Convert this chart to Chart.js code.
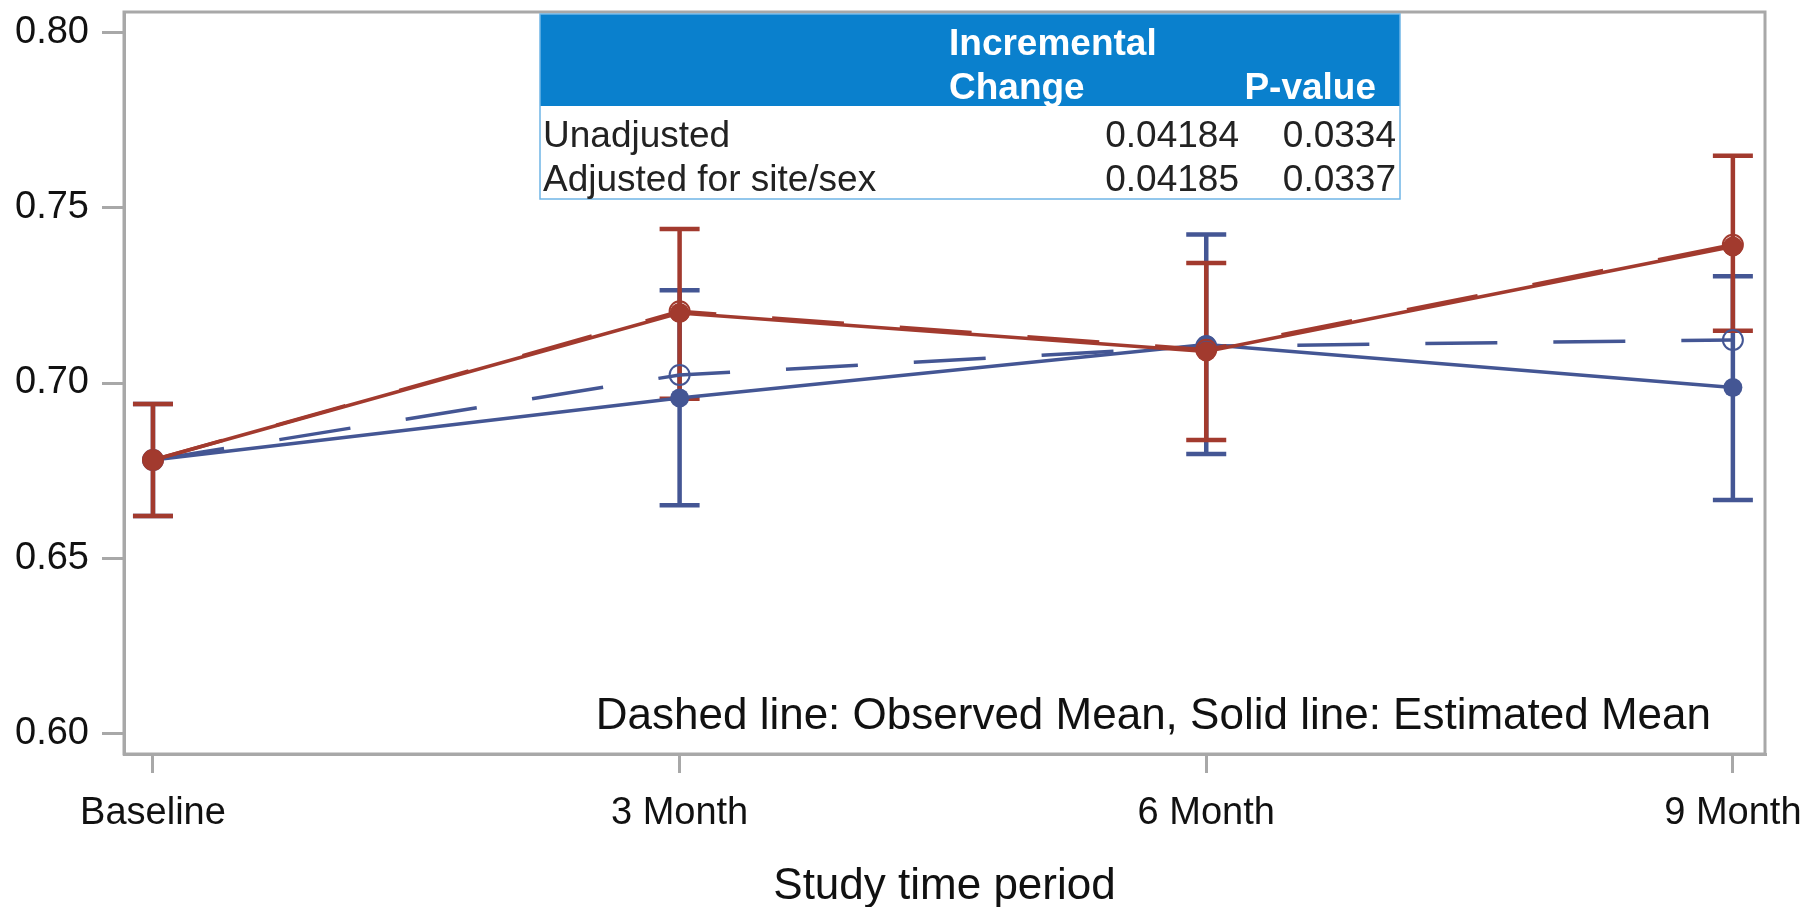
<!DOCTYPE html>
<html>
<head>
<meta charset="utf-8">
<script src="https://cdn.jsdelivr.net/npm/chart.js@4/dist/chart.umd.min.js"></script>
<style>
html,body{margin:0;padding:0;background:#fff;}
canvas{display:block;}
</style>
</head>
<body>
<canvas id="c" width="1812" height="907"></canvas>
<script>
const categories = ['Baseline', '3 Month', '6 Month', '9 Month'];
const yTicks = [0.60, 0.65, 0.70, 0.75, 0.80];

const blueEstimated = [0.678, 0.6957, 0.7110, 0.6987];
const blueObserved  = [0.678, 0.7023, 0.7105, 0.7123];
const blueLower     = [0.662, 0.6651, 0.6797, 0.6666];
const blueUpper     = [0.694, 0.7265, 0.7424, 0.7305];

const redEstimated  = [0.678, 0.7200, 0.7090, 0.7390];
const redObserved   = [0.678, 0.7205, 0.7095, 0.7395];
const redLower      = [0.662, 0.6955, 0.6837, 0.7149];
const redUpper      = [0.694, 0.7440, 0.7343, 0.7649];

const tableRowLabels = ['Unadjusted', 'Adjusted for site/sex'];
const incrementalChange = ['0.04184', '0.04185'];
const pValues = ['0.0334', '0.0337'];
const tableHead1 = ['Incremental', ''];
const tableHead2 = ['Change', 'P-value'];
const footnote = 'Dashed line: Observed Mean, Solid line: Estimated Mean';
const xTitle = 'Study time period';

const BLUE = '#445694';
const RED = '#A23A2E';
const AXIS = '#a8a8a8';
const FONT = '"Liberation Sans", Arial, sans-serif';

const pts = arr => arr.map((v, i) => ({x: i, y: v}));

const errorBars = [
  {lower: blueLower, upper: blueUpper, color: BLUE},
  {lower: redLower, upper: redUpper, color: RED}
];

const errorBarPlugin = {
  id: 'errorBars',
  beforeDatasetsDraw(chart) {
    const {ctx, scales: {x, y}} = chart;
    ctx.save();
    ctx.lineWidth = 4.5;
    errorBars.forEach(eb => {
      ctx.strokeStyle = eb.color;
      eb.lower.forEach((lo, i) => {
        const px = x.getPixelForValue(i);
        const pl = y.getPixelForValue(lo);
        const pu = y.getPixelForValue(eb.upper[i]);
        ctx.beginPath();
        ctx.moveTo(px, pl); ctx.lineTo(px, pu);
        ctx.moveTo(px - 20, pl); ctx.lineTo(px + 20, pl);
        ctx.moveTo(px - 20, pu); ctx.lineTo(px + 20, pu);
        ctx.stroke();
      });
    });
    ctx.restore();
  }
};

const framePlugin = {
  id: 'frame',
  afterDraw(chart) {
    const {ctx, chartArea: a} = chart;
    ctx.save();
    ctx.strokeStyle = AXIS;
    ctx.lineWidth = 3;
    ctx.strokeRect(a.left, a.top, a.right - a.left, a.bottom - a.top);

    // footnote
    ctx.fillStyle = '#111';
    ctx.font = '44px ' + FONT;
    ctx.textAlign = 'right';
    ctx.textBaseline = 'middle';
    ctx.fillText(footnote, 1711, 716.5);

    // table
    const L = 540, R = 1400, T = 14, HB = 106, B = 199;
    ctx.fillStyle = '#ffffff';
    ctx.fillRect(L, T, R - L, B - T);
    ctx.fillStyle = '#0a80cd';
    ctx.fillRect(L, T, R - L, HB - T);
    ctx.strokeStyle = '#6fb5e6';
    ctx.lineWidth = 1.5;
    ctx.strokeRect(L, T, R - L, B - T);

    ctx.fillStyle = '#ffffff';
    ctx.font = 'bold 37px ' + FONT;
    ctx.textAlign = 'left';
    ctx.fillText(tableHead1[0], 949, 44.5);
    ctx.fillText(tableHead2[0], 949, 88.5);
    ctx.textAlign = 'right';
    ctx.fillText(tableHead2[1], 1376, 88.5);

    ctx.fillStyle = '#222';
    ctx.font = '37px ' + FONT;
    const rowY = [136.5, 180.5];
    tableRowLabels.forEach((lab, i) => {
      ctx.textAlign = 'left';
      ctx.fillText(lab, 543, rowY[i]);
      ctx.textAlign = 'right';
      ctx.fillText(incrementalChange[i], 1239, rowY[i]);
      ctx.fillText(pValues[i], 1396, rowY[i]);
    });
    ctx.restore();
  }
};

new Chart(document.getElementById('c'), {
  type: 'line',
  data: {
    datasets: [
      {label: 'Red estimated', data: pts(redEstimated), borderColor: RED, backgroundColor: RED,
       borderWidth: 3.5, pointRadius: 10, pointBorderWidth: 0, pointBackgroundColor: RED, order: 1},
      {label: 'Red observed', data: pts(redObserved), borderColor: RED, backgroundColor: 'rgba(0,0,0,0)',
       borderWidth: 3.5, borderDash: [72, 56], pointRadius: 10, pointBorderWidth: 2, pointBorderColor: RED,
       pointBackgroundColor: 'rgba(0,0,0,0)', order: 2},
      {label: 'Blue estimated', data: pts(blueEstimated), borderColor: BLUE, backgroundColor: BLUE,
       borderWidth: 3.5, pointRadius: 9.5, pointBorderWidth: 0, pointBackgroundColor: BLUE, order: 3},
      {label: 'Blue observed', data: pts(blueObserved), borderColor: BLUE, backgroundColor: 'rgba(0,0,0,0)',
       borderWidth: 3.5, borderDash: [72, 56], pointRadius: 10, pointBorderWidth: 2, pointBorderColor: BLUE,
       pointBackgroundColor: 'rgba(0,0,0,0)', order: 4}
    ]
  },
  options: {
    responsive: false,
    devicePixelRatio: 1,
    animation: false,
    layout: {padding: {top: 9, right: 47, left: 0, bottom: 0}},
    plugins: {legend: {display: false}, tooltip: {enabled: false}, title: {display: false}},
    elements: {line: {tension: 0}},
    scales: {
      x: {
        type: 'linear',
        min: -0.055,
        max: 3.061,
        afterBuildTicks(scale) { scale.ticks = categories.map((c, i) => ({value: i})); },
        afterFit(scale) { scale.height = 153; scale.paddingLeft = 0; scale.paddingRight = 0; },
        ticks: {
          autoSkip: false, maxRotation: 0, padding: 18,
          color: '#111', font: {family: FONT, size: 38},
          callback: (v) => categories[v]
        },
        grid: {drawOnChartArea: false, drawTicks: true, tickLength: 19, color: AXIS, lineWidth: 3},
        border: {display: true, color: AXIS, width: 3},
        title: {display: true, text: xTitle, color: '#111', font: {family: FONT, size: 44, lineHeight: 0.85},
                padding: {top: 0, bottom: 1}}
      },
      y: {
        type: 'linear',
        min: 0.59403,
        max: 0.80597,
        afterBuildTicks(scale) { scale.ticks = yTicks.map(v => ({value: v})); },
        afterFit(scale) { scale.width = 124; scale.paddingTop = 0; scale.paddingBottom = 0; },
        ticks: {
          padding: 13, color: '#111', font: {family: FONT, size: 38},
          callback: (v) => Number(v).toFixed(2)
        },
        grid: {drawOnChartArea: false, drawTicks: true, tickLength: 22, color: AXIS, lineWidth: 3},
        border: {display: true, color: AXIS, width: 3}
      }
    }
  },
  plugins: [errorBarPlugin, framePlugin]
});
</script>
</body>
</html>
